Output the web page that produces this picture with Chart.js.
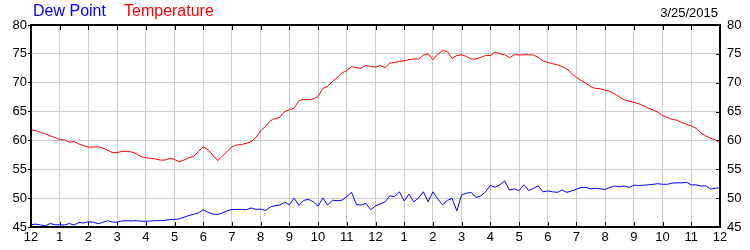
<!DOCTYPE html>
<html>
<head>
<meta charset="utf-8">
<script src="https://cdn.jsdelivr.net/npm/chart.js@4.4.1/dist/chart.umd.min.js"></script>
<style>
  html, body { margin: 0; padding: 0; background: #fff; }
  #wrap { position: relative; width: 750px; height: 250px; overflow: hidden; }
  canvas { position: absolute; left: 0; top: 0; }
  .lg { position: absolute; font-family: 'Liberation Sans', Arial, sans-serif; white-space: nowrap; }
</style>
</head>
<body>
<div id="wrap">
  <canvas id="c" width="750" height="250"></canvas>
  <div class="lg" id="lgDew" style="left:33px; top:3px; font-size:16px; line-height:16px; color:#0000ff;">Dew Point</div>
  <div class="lg" id="lgTemp" style="left:124px; top:3px; font-size:16px; line-height:16px; color:#ff0000;">Temperature</div>
  <div class="lg" id="dateLbl" style="right:32px; top:6px; font-size:13px; line-height:13px; color:#000;">3/25/2015</div>
</div>
<script>
// ---- DATA ----
const dateLabel = '3/25/2015';
const seriesNames = ['Dew Point', 'Temperature'];
const hourLabels = ['12','1','2','3','4','5','6','7','8','9','10','11','12','1','2','3','4','5','6','7','8','9','10','11','12'];
const sampleMinutes = 10; // one reading every 10 minutes, midnight to midnight

const temperature = [
  61.8, 61.7, 61.4, 61.1, 60.8, 60.5,
  60.1, 60.1, 59.7, 59.8, 59.4, 59.1,
  58.85, 58.85, 58.9, 58.7, 58.3, 57.9,
  57.9, 58.1, 58.1, 58.0, 57.7, 57.2,
  57.0, 56.9, 56.8, 56.6, 56.6, 56.9,
  56.7, 56.3, 56.6, 57.0, 57.2, 58.1,
  58.9, 58.4, 57.4, 56.5, 57.3, 58.1,
  58.9, 59.2, 59.3, 59.5, 59.8, 60.5,
  61.7, 62.4, 63.4, 63.8, 64.0, 65.0,
  65.3, 65.6, 66.9, 67.1, 67.05, 67.2,
  67.6, 69.0, 69.4, 70.2, 70.9, 71.7,
  72.1, 72.8, 72.6, 72.5, 73.0, 72.8,
  72.7, 73.0, 72.6, 73.4, 73.5, 73.7,
  73.8, 74.0, 74.1, 74.1, 74.8, 75.0,
  74.0, 74.9, 75.6, 75.4, 74.2, 74.7,
  74.85, 74.55, 74.1, 74.1, 74.4, 74.7,
  74.7, 75.3, 75.0, 74.85, 74.3, 74.85,
  74.8, 74.85, 74.85, 74.8, 74.4, 73.8,
  73.5, 73.3, 73.1, 72.8, 72.4, 71.6,
  70.9, 70.4, 69.9, 69.3, 69.0, 68.95,
  68.7, 68.5, 68.1, 67.5, 67.05, 66.8,
  66.6, 66.35, 66.0, 65.6, 65.3, 64.9,
  64.3, 64.0, 63.65, 63.5, 63.1, 62.8,
  62.5, 62.1, 61.3, 60.8, 60.4, 60.1,
  59.5
];

const dewPoint = [
  45.4, 45.5, 45.35, 45.2, 45.6, 45.4,
  45.4, 45.35, 45.6, 45.35, 45.8, 45.7,
  45.9, 45.85, 45.55, 45.8, 46.1, 45.85,
  45.85, 46.05, 46.1, 46.05, 46.1, 46.0,
  46.0, 46.05, 46.1, 46.1, 46.15, 46.3,
  46.3, 46.4, 46.7, 47.0, 47.2, 47.45,
  48.0, 47.55, 47.25, 47.15, 47.45, 47.8,
  48.05, 48.0, 48.05, 48.0, 48.3, 48.05,
  48.1, 47.85, 48.45, 48.7, 48.8, 49.3,
  48.85, 50.0, 48.75, 49.6, 49.8, 49.35,
  48.6, 50.05, 48.8, 49.65, 49.55, 49.65,
  50.25, 51.0, 48.9, 48.8, 49.1, 48.0,
  48.65, 49.0, 49.35, 50.4, 50.25, 51.1,
  49.5, 50.7, 49.35, 50.05, 51.1, 49.35,
  51.1, 49.9, 48.85, 49.6, 49.95, 47.8,
  50.55, 50.85, 51.0, 50.1, 50.4, 51.1,
  52.2, 51.9, 52.3, 53.0, 51.4, 51.6,
  51.3, 52.3, 51.3, 51.7, 52.1, 51.1,
  51.25, 51.1, 51.0, 51.4, 51.0, 51.25,
  51.55, 51.85, 51.85, 51.6, 51.7, 51.6,
  51.5, 51.85, 52.1, 51.95, 52.1, 51.85,
  52.25, 52.2, 52.25, 52.3, 52.4, 52.5,
  52.4, 52.4, 52.6, 52.65, 52.65, 52.75,
  52.3, 52.3, 52.1, 52.15, 51.6, 51.7,
  51.85
];

const yMin = 45, yMax = 80, yStep = 5;

// ---- CHART ----
const toPoints = arr => arr.map((v, i) => ({ x: i * sampleMinutes / 60, y: v }));
const FONT = "'Liberation Sans', Arial, sans-serif";

const framePlugin = {
  id: 'frame',
  afterDraw(chart) {
    const { ctx, chartArea: a, scales } = chart;
    ctx.save();
    ctx.strokeStyle = '#000';
    ctx.lineWidth = 1;
    const xs = scales.x;
    for (let h = 0; h < hourLabels.length; h++) {
      const px = Math.round(xs.getPixelForValue(h)) + 0.5;
      ctx.beginPath();
      ctx.moveTo(px, a.top); ctx.lineTo(px, a.top + 5);
      ctx.moveTo(px, a.bottom); ctx.lineTo(px, a.bottom - 5);
      ctx.stroke();
    }
    const ys = scales.y;
    for (let v = yMin; v <= yMax; v += yStep) {
      const py = Math.round(ys.getPixelForValue(v)) + 0.5;
      ctx.beginPath();
      ctx.moveTo(a.right - 4, py); ctx.lineTo(a.right, py);
      ctx.stroke();
    }
    ctx.lineWidth = 2;
    ctx.strokeRect(a.left, a.top, a.right - a.left, a.bottom - a.top);
    ctx.restore();
  }
};

new Chart(document.getElementById('c'), {
  type: 'line',
  data: {
    datasets: [
      {
        label: seriesNames[0],
        data: toPoints(dewPoint),
        borderColor: '#0000ff',
        backgroundColor: '#0000ff',
        borderWidth: 1,
        pointRadius: 0,
        tension: 0,
        yAxisID: 'y'
      },
      {
        label: seriesNames[1],
        data: toPoints(temperature),
        borderColor: '#ff0000',
        backgroundColor: '#ff0000',
        borderWidth: 1,
        pointRadius: 0,
        tension: 0,
        yAxisID: 'y'
      }
    ]
  },
  options: {
    responsive: false,
    animation: false,
    layout: { padding: { top: 25, left: 0, right: 0, bottom: 0 } },
    plugins: {
      legend: { display: false },
      tooltip: { enabled: false },
      title: { display: false }
    },
    scales: {
      x: {
        type: 'linear',
        min: 0,
        max: 24,
        afterBuildTicks(scale) {
          scale.ticks = hourLabels.map((_, i) => ({ value: i }));
        },
        afterFit(scale) { scale.height = 23; },
        ticks: {
          autoSkip: false,
          maxRotation: 0,
          padding: 3,
          color: '#000',
          font: { family: FONT, size: 13 },
          callback: (v) => hourLabels[v]
        },
        grid: { color: '#cccccc', lineWidth: 1, drawTicks: false },
        border: { display: false }
      },
      y: {
        position: 'left',
        min: yMin,
        max: yMax,
        afterFit(scale) { scale.width = 31; },
        ticks: {
          stepSize: yStep,
          padding: 1,
          color: '#000',
          font: { family: FONT, size: 13 }
        },
        grid: { color: '#cccccc', lineWidth: 1, drawTicks: true, tickLength: 3, tickColor: '#000' },
        border: { display: false }
      },
      y2: {
        position: 'right',
        min: yMin,
        max: yMax,
        display: true,
        afterFit(scale) { scale.width = 30; },
        ticks: {
          stepSize: yStep,
          padding: 7,
          color: '#000',
          font: { family: FONT, size: 13 }
        },
        grid: { display: false, drawTicks: false },
        border: { display: false }
      }
    }
  },
  plugins: [framePlugin]
});
</script>
</body>
</html>
